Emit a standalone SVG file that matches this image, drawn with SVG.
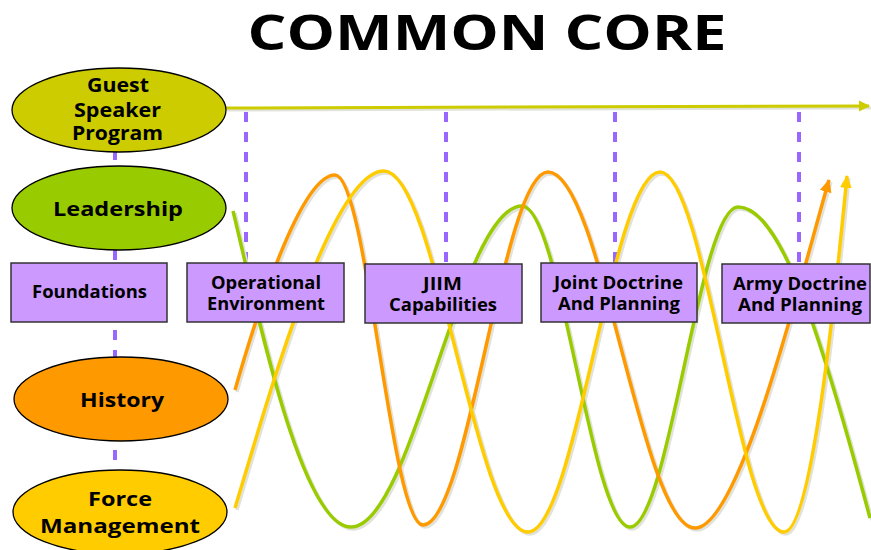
<svg xmlns="http://www.w3.org/2000/svg" xmlns:xlink="http://www.w3.org/1999/xlink" width="871" height="550" viewBox="0 0 871 550">
<style>
text{font-family:"Open Sans","Liberation Sans",sans-serif;font-weight:bold;fill:#000;text-anchor:middle}
.t{font-size:20px}
.g{font-size:19px}
.b{font-size:17px}
.ell{stroke:#000;stroke-width:1.3}
.box{fill:#CC99FF;stroke:#333;stroke-width:1.5}
.dash{stroke:#9966FF;stroke-width:4;stroke-dasharray:10 10;fill:none}
.wave{fill:none;stroke-width:3.5;stroke-linecap:butt}
.sh{fill:none;stroke:#e2e2dc;stroke-width:3.5}
</style>
<defs>
<marker id="aO" markerUnits="userSpaceOnUse" markerWidth="14" markerHeight="12" refX="12" refY="6" orient="auto"><path d="M0,0 L13,6 L0,12 Z" fill="#FF9900"/></marker>
<marker id="aY" markerUnits="userSpaceOnUse" markerWidth="14" markerHeight="12" refX="12" refY="6" orient="auto"><path d="M0,0 L13,6 L0,12 Z" fill="#FFCC00"/></marker>
<marker id="aG" markerUnits="userSpaceOnUse" markerWidth="12" markerHeight="12" refX="10" refY="6" orient="auto"><path d="M0,0.5 L11,6 L0,11.5 Z" fill="#CCCC00"/></marker>
<path id="pO" d="M235,390 C255,320 300,175 335,175 C367,175 391,525 423,525 C468.5,525 502.5,172 548,172 C601.5,172 641.5,528 695,528 C740,528 800,280 829,180"/>
<path id="pY" d="M235,508 C265,410 330,171 384,171 C436.4,171 475.6,532 528,532 C576,532 612,172 660,172 C705,172 739,532 784,532 C810,532 832,330 847,176"/>
<path id="pG" d="M233,211 C255,300 300,527 351,527 C413,527 460,206 522,206 C561,206 591,527 630,527 C669,527 699,207 738,207 C780,207 820,330 870,518"/>
</defs>
<rect width="871" height="550" fill="#fff"/>
<text x="487" y="50" style="font-size:49px" textLength="479" lengthAdjust="spacingAndGlyphs">COMMON CORE</text>
<g id="connectors">
<line class="dash" x1="115" y1="150" x2="115" y2="470"/>
<line class="dash" x1="246" y1="112" x2="246" y2="263"/>
<line class="dash" x1="446" y1="112" x2="446" y2="264"/>
<line class="dash" x1="615" y1="112" x2="615" y2="263"/>
<line class="dash" x1="799" y1="112" x2="799" y2="264"/>
<line x1="227" y1="110" x2="871" y2="108" stroke="#e2e2dc" stroke-width="3"/>
<line x1="226" y1="108" x2="869" y2="106" stroke="#CCCC00" stroke-width="3" marker-end="url(#aG)"/>
<use xlink:href="#pG" class="sh" transform="translate(2,2)"/>
<use xlink:href="#pO" class="sh" transform="translate(2,2)"/>
<use xlink:href="#pY" class="sh" transform="translate(2,2)"/>
<use xlink:href="#pG" class="wave" stroke="#99CC00"/>
<use xlink:href="#pO" class="wave" stroke="#FF9900" marker-end="url(#aO)"/>
<use xlink:href="#pY" class="wave" stroke="#FFCC00" marker-end="url(#aY)"/>
</g>
<g id="guest-speaker">
<ellipse class="ell" cx="119" cy="110" rx="107" ry="42" fill="#CCCC00"/>
<text class="g" x="118" y="92" textLength="62" lengthAdjust="spacingAndGlyphs">Guest</text>
<text class="g" x="117.5" y="117" textLength="87" lengthAdjust="spacingAndGlyphs">Speaker</text>
<text class="g" x="117.5" y="140" textLength="91" lengthAdjust="spacingAndGlyphs">Program</text>
</g>
<g id="leadership">
<ellipse class="ell" cx="119" cy="208" rx="107" ry="42" fill="#99CC00"/>
<text class="t" x="118" y="216" textLength="130" lengthAdjust="spacingAndGlyphs">Leadership</text>
</g>
<g id="history">
<ellipse class="ell" cx="121" cy="399" rx="107" ry="42" fill="#FF9900"/>
<text class="t" x="122" y="407" textLength="84" lengthAdjust="spacingAndGlyphs">History</text>
</g>
<g id="force-management">
<ellipse class="ell" cx="120" cy="512" rx="107" ry="42" fill="#FFCC00"/>
<text class="t" x="120" y="506" textLength="64" lengthAdjust="spacingAndGlyphs">Force</text>
<text class="t" x="120" y="533" textLength="160" lengthAdjust="spacingAndGlyphs">Management</text>
</g>
<g id="foundations">
<rect class="box" x="11" y="263" width="156" height="59"/>
<text class="b" x="89.5" y="298" textLength="115" lengthAdjust="spacingAndGlyphs">Foundations</text>
</g>
<g id="operational-environment">
<rect class="box" x="187" y="263" width="157" height="59"/>
<text class="b" x="266" y="289" textLength="110" lengthAdjust="spacingAndGlyphs">Operational</text>
<text class="b" x="266" y="310" textLength="118" lengthAdjust="spacingAndGlyphs">Environment</text>
</g>
<g id="jiim-capabilities">
<rect class="box" x="365" y="264" width="157" height="59"/>
<text class="b" x="442.5" y="290" textLength="39" lengthAdjust="spacingAndGlyphs">JIIM</text>
<text class="b" x="443" y="311" textLength="108" lengthAdjust="spacingAndGlyphs">Capabilities</text>
</g>
<g id="joint-doctrine">
<rect class="box" x="541" y="263" width="156" height="59"/>
<text class="b" x="618.5" y="289" textLength="129" lengthAdjust="spacingAndGlyphs">Joint Doctrine</text>
<text class="b" x="619" y="310" textLength="122" lengthAdjust="spacingAndGlyphs">And Planning</text>
</g>
<g id="army-doctrine">
<rect class="box" x="722" y="264" width="148" height="59"/>
<text class="b" x="800" y="290" textLength="134" lengthAdjust="spacingAndGlyphs">Army Doctrine</text>
<text class="b" x="800" y="311" textLength="124" lengthAdjust="spacingAndGlyphs">And Planning</text>
</g>
</svg>
